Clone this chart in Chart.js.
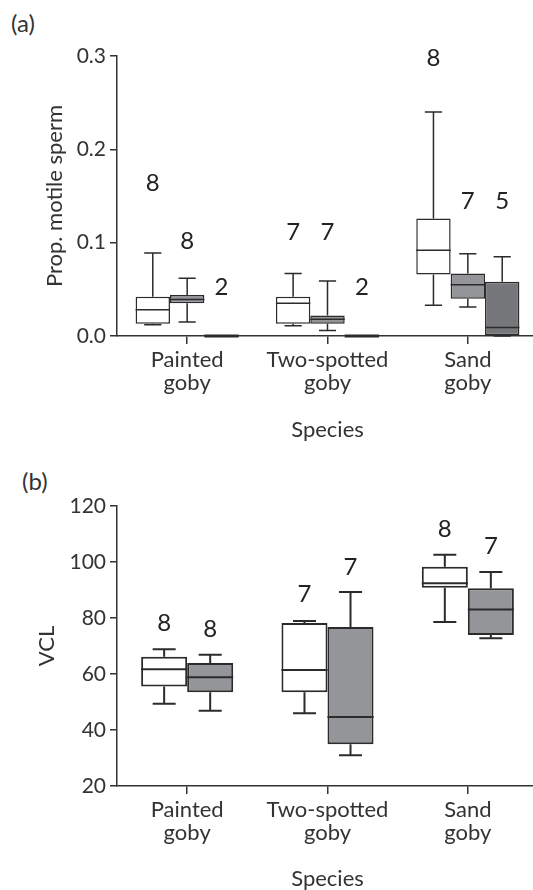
<!DOCTYPE html>
<html>
<head>
<meta charset="utf-8">
<script src="https://cdn.jsdelivr.net/npm/chart.js@4.4.1/dist/chart.umd.min.js"></script>
<style>
  html, body { margin: 0; padding: 0; background: #fff; overflow: hidden; }
  body { width: 533px; height: 890px; position: relative; font-family: Lato, sans-serif; }
  canvas { position: absolute; left: 0; }
  #chartA { top: 0; }
  #chartB { top: 445px; }
  .panel { position: absolute; font-size: 24px; color: #333; line-height: 1; }
</style>
</head>
<body>
<div class="panel" style="left:11px; top:11px;">(a)</div>
<div class="panel" style="left:22px; top:469px;">(b)</div>
<canvas id="chartA" width="545" height="445"></canvas>
<canvas id="chartB" width="545" height="445"></canvas>
<script>
const species = [['Painted', 'goby'], ['Two-spotted', 'goby'], ['Sand', 'goby']];
const boxColors = ['#ffffff', '#939598', '#76777a'];

// (a) proportion of motile sperm, one row per group (white, grey, dark grey)
const motileMin    = [[0.012, 0.011, 0.033], [0.015, 0.006, 0.031], [0, 0, 0]];
const motileQ1     = [[0.013, 0.013, 0.066], [0.035, 0.013, 0.040], [0, 0, 0]];
const motileMedian = [[0.028, 0.035, 0.092], [0.039, 0.018, 0.055], [0, 0, 0.009]];
const motileQ3     = [[0.042, 0.042, 0.126], [0.044, 0.022, 0.067], [0, 0, 0.058]];
const motileMax    = [[0.089, 0.067, 0.240], [0.062, 0.059, 0.088], [0, 0, 0.085]];
const motileN      = [[8, 7, 8], [8, 7, 7], [2, 2, 5]];
const motileNAt    = [[0.164, 0.111, 0.298], [0.102, 0.111, 0.144], [0.052, 0.052, 0.144]];
const motileTicks  = [0, 0.1, 0.2, 0.3];

// (b) VCL
const vclMin    = [[49.4, 46.0, 78.6], [46.9, 31.0, 72.8]];
const vclQ1     = [[55.5, 53.5, 90.8], [53.5, 34.9, 73.9]];
const vclMedian = [[61.7, 61.4, 92.4], [58.8, 44.6, 83.0]];
const vclQ3     = [[66.2, 78.2, 98.3], [63.9, 76.8, 90.6]];
const vclMax    = [[68.8, 78.9, 102.6], [66.9, 89.3, 96.4]];
const vclN      = [[8, 7, 8], [8, 7, 7]];
const vclNAt    = [[78.1, 88.5, 111.8], [76.0, 98.2, 105.5]];
const vclTicks  = [20, 40, 60, 80, 100, 120];

const ink = '#2b2b2b';
const textCol = '#333';

// whiskers, medians and n labels on top of the floating bars
const boxPlugin = {
  id: 'boxExtras',
  afterDatasetsDraw(chart, args, opts) {
    const ctx = chart.ctx;
    const y = chart.scales.y;
    ctx.save();
    chart.data.datasets.forEach((ds, i) => {
      const meta = chart.getDatasetMeta(i);
      meta.data.forEach((bar, j) => {
        const x = bar.x, w = bar.width;
        const cap = w * 0.25;
        ctx.strokeStyle = ink;
        ctx.lineWidth = opts.lw;
        ctx.beginPath();
        // upper whisker
        ctx.moveTo(x, y.getPixelForValue(opts.q3[i][j]));
        ctx.lineTo(x, y.getPixelForValue(opts.max[i][j]));
        ctx.moveTo(x - cap, y.getPixelForValue(opts.max[i][j]));
        ctx.lineTo(x + cap, y.getPixelForValue(opts.max[i][j]));
        // lower whisker
        ctx.moveTo(x, y.getPixelForValue(opts.q1[i][j]));
        ctx.lineTo(x, y.getPixelForValue(opts.min[i][j]));
        ctx.moveTo(x - cap, y.getPixelForValue(opts.min[i][j]));
        ctx.lineTo(x + cap, y.getPixelForValue(opts.min[i][j]));
        ctx.stroke();
        // median
        ctx.lineWidth = opts.q3[i][j] === opts.q1[i][j] ? 3 : opts.lw;
        ctx.beginPath();
        const my = y.getPixelForValue(opts.median[i][j]);
        ctx.moveTo(x - w / 2, my);
        ctx.lineTo(x + w / 2, my);
        ctx.stroke();
        // sample size
        ctx.fillStyle = '#222';
        ctx.font = '24px Lato';
        ctx.textAlign = 'center';
        ctx.textBaseline = 'middle';
        ctx.fillText(String(opts.n[i][j]), x, y.getPixelForValue(opts.nAt[i][j]));
      });
    });
    ctx.restore();
  }
};

function makeBoxChart(id, p) {
  const datasets = p.q1.map((row, i) => ({
    data: species.map((s, j) => [p.q1[i][j], p.q3[i][j]]),
    backgroundColor: boxColors[i],
    borderColor: ink,
    borderWidth: p.lw,
    borderSkipped: false,
    categoryPercentage: p.catPct,
    barPercentage: 1
  }));
  return new Chart(document.getElementById(id), {
    type: 'bar',
    data: { labels: species, datasets: datasets },
    plugins: [boxPlugin],
    options: {
      responsive: false,
      animation: false,
      layout: { padding: { top: p.top, right: 7, left: 0, bottom: 0 } },
      plugins: {
        legend: { display: false },
        tooltip: { enabled: false },
        boxExtras: p
      },
      scales: {
        x: {
          offset: true,
          afterFit: s => { s.height = p.xHeight; },
          grid: { offset: false, drawOnChartArea: false, drawTicks: true, tickLength: 8, color: textCol, lineWidth: 1.5 },
          border: { display: true, color: textCol, width: 1.5 },
          ticks: { color: textCol, font: { family: 'Lato', size: 22, lineHeight: 1.05 }, padding: 4, maxRotation: 0, autoSkip: false },
          title: { display: true, text: 'Species', color: textCol, font: { family: 'Lato', size: 22, lineHeight: 1 }, padding: { top: 0, bottom: p.xTitlePad } }
        },
        y: {
          min: p.ticks[0],
          max: p.ticks[p.ticks.length - 1],
          afterFit: s => { s.width = 117; },
          afterBuildTicks: s => { s.ticks = p.ticks.map(v => ({ value: v })); },
          grid: { drawOnChartArea: false, drawTicks: true, tickLength: 7, color: textCol, lineWidth: 1.5 },
          border: { display: true, color: textCol, width: 1.5 },
          ticks: { color: textCol, font: { family: 'Lato', size: 21 }, padding: 4, callback: p.fmt },
          title: { display: true, text: p.yTitle, color: textCol, font: { family: 'Lato', size: 22, lineHeight: 1.2 }, padding: { top: p.yTitlePad, bottom: 0 } }
        }
      }
    }
  });
}

makeBoxChart('chartA', {
  min: motileMin, q1: motileQ1, median: motileMedian, q3: motileQ3, max: motileMax,
  n: motileN, nAt: motileNAt, ticks: motileTicks,
  fmt: v => Number(v).toFixed(1), yTitle: 'Prop. motile sperm',
  catPct: 0.735, lw: 1.5, top: 56, xHeight: 109, xTitlePad: 4, yTitlePad: 42
});

makeBoxChart('chartB', {
  min: vclMin, q1: vclQ1, median: vclMedian, q3: vclQ3, max: vclMax,
  n: vclN, nAt: vclNAt, ticks: vclTicks,
  fmt: v => String(v), yTitle: 'VCL',
  catPct: 0.656, lw: 2, top: 61, xHeight: 104, xTitlePad: 0, yTitlePad: 34
});
</script>
</body>
</html>
